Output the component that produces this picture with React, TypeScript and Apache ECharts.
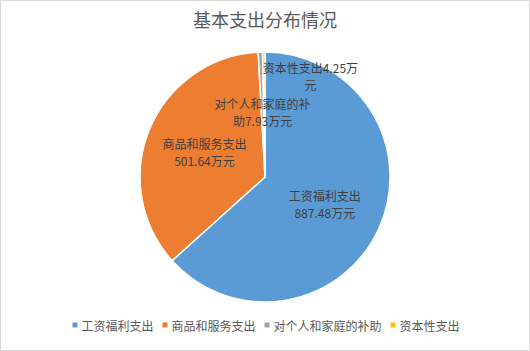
import React, { useEffect, useRef } from "react";
import * as echarts from "echarts";

const titleText = "基本支出分布情况";
const categories = ["工资福利支出", "商品和服务支出", "对个人和家庭的补助", "资本性支出"];
const values = [887.48, 501.64, 7.93, 4.25];
const colors = ["#5B9BD5", "#ED7D31", "#A5A5A5", "#FFC000"];
const unit = "万元";

const FONT = '"Noto Sans CJK SC", "Noto Sans", sans-serif';

export default function App() {
  const ref = useRef<HTMLDivElement>(null);
  useEffect(() => {
    if (!ref.current) return;
    const chart = echarts.init(ref.current, undefined, { renderer: "svg" });
    const data = categories.map((name, i) => ({
      name,
      value: values[i],
      itemStyle: { color: colors[i] },
    }));
    const fmt = (p: any) => {
      const name: string = p.name;
      const v = p.value;
      if (p.dataIndex === 2) return `${name.slice(0, 8)}\n${name.slice(8)}${v}${unit}`;
      if (p.dataIndex === 3) return `${name}${v}万\n元`;
      return `${name}\n${v}${unit}`;
    };
    chart.setOption({
      animation: false,
      backgroundColor: "#ffffff",
      textStyle: { fontFamily: FONT },
      title: {
        text: titleText,
        left: "center",
        top: 5,
        textStyle: { fontFamily: FONT, fontSize: 18, fontWeight: "normal", color: "#595959" },
      },
      legend: {
        bottom: 15,
        left: "center",
        icon: "rect",
        itemWidth: 7,
        itemHeight: 7,
        itemGap: 7,
        textStyle: { fontFamily: FONT, fontSize: 12, color: "#595959", padding: [0, 0, 0, -2] },
        data: categories,
      },
      graphic: [
        {
          type: "rect",
          shape: { x: 0.5, y: 0.5, width: 529, height: 350 },
          style: { fill: "none", stroke: "#d9d9d9", lineWidth: 1 },
          silent: true,
        },
      ],
      series: [
        {
          type: "pie",
          center: [265, 177],
          radius: 125,
          startAngle: 90,
          clockwise: true,
          itemStyle: { borderColor: "#ffffff", borderWidth: 1.5 },
          label: {
            show: true,
            position: "inner",
            fontFamily: FONT,
            fontSize: 12,
            lineHeight: 17,
            color: "#404040",
            formatter: fmt,
          },
          labelLine: { show: false },
          labelLayout: (params: any) =>
            params.dataIndex === 3 ? { dx: 46, dy: -36 } : {},
          emphasis: { disabled: true },
          data,
        },
      ],
    });
    return () => chart.dispose();
  }, []);
  return (
    <div
      ref={ref}
      style={{ position: "fixed", left: 0, top: 0, width: 530, height: 351 }}
    />
  );
}
